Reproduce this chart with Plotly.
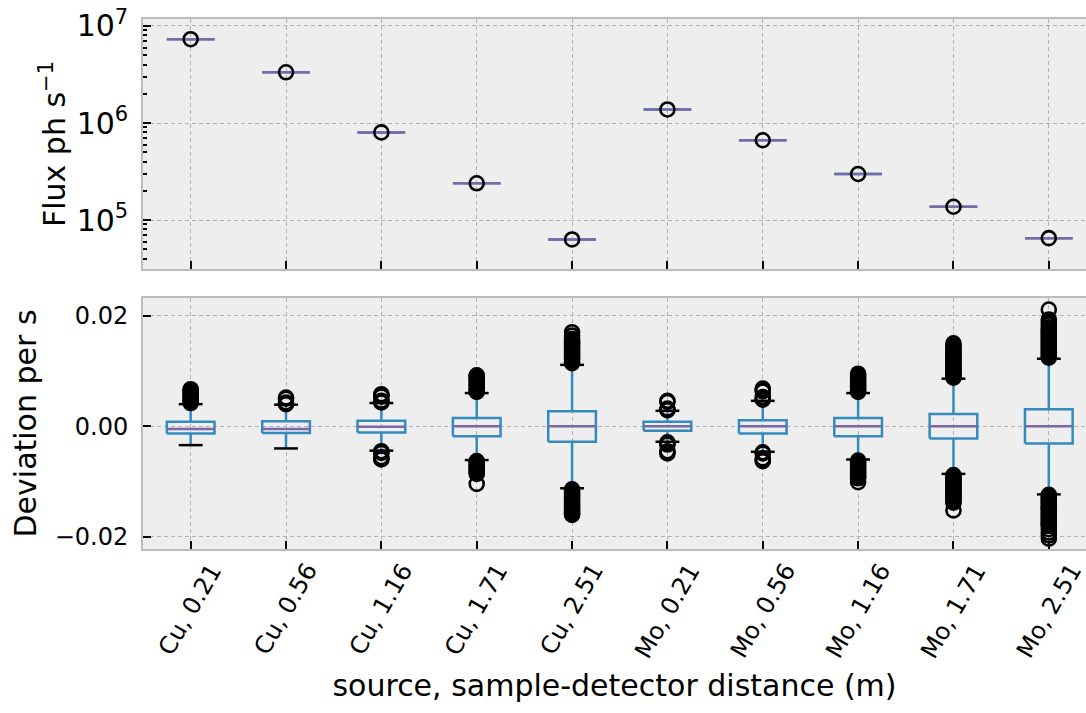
import plotly.graph_objects as go

# Categories: X-ray source and sample-detector distance (m)
categories = ["Cu, 0.21", "Cu, 0.56", "Cu, 1.16", "Cu, 1.71", "Cu, 2.51",
              "Mo, 0.21", "Mo, 0.56", "Mo, 1.16", "Mo, 1.71", "Mo, 2.51"]

# Top panel: photon flux (ph/s) per configuration
flux = [7.3e6, 3.33e6, 8.0e5, 2.39e5, 6.3e4,
        1.38e6, 6.64e5, 2.98e5, 1.37e5, 6.5e4]

# Bottom panel: deviation per second, box statistics
dev_q1 = [-0.0013, -0.0012, -0.0011, -0.0018, -0.0028,
          -0.0008, -0.0013, -0.0018, -0.0022, -0.0031]
dev_median = [-0.0005, -0.0005, -0.0001, 0.0, 0.0,
              0.0, 0.0, 0.0, 0.0, 0.0]
dev_q3 = [0.0008, 0.0009, 0.0010, 0.0015, 0.0027,
          0.0008, 0.0011, 0.0015, 0.0022, 0.0031]
dev_whisker_lo = [-0.0034, -0.0040, -0.0044, -0.0061, -0.0112,
                  -0.0028, -0.0046, -0.0060, -0.0086, -0.0123]
dev_whisker_hi = [0.0040, 0.0039, 0.0042, 0.0060, 0.0111,
                  0.0028, 0.0046, 0.0060, 0.0086, 0.0122]

# Bottom panel: outliers beyond the whiskers
dev_outliers = [
    # Cu, 0.21
    [0.0042, 0.0045, 0.0048, 0.0051, 0.0054, 0.0057, 0.0060, 0.0063, 0.0065, 0.0067],
    # Cu, 0.56
    [0.0040, 0.0041, 0.0043, 0.0050, 0.0052],
    # Cu, 1.16
    [0.0043, 0.0044, 0.0046, 0.0054, 0.0056, 0.0058,
     -0.0045, -0.0046, -0.0048, -0.0056, -0.0058, -0.0060],
    # Cu, 1.71
    [0.0062, 0.0065, 0.0068, 0.0071, 0.0074, 0.0077, 0.0080, 0.0083, 0.0086, 0.0089, 0.0091, 0.0092,
     -0.0063, -0.0066, -0.0069, -0.0072, -0.0075, -0.0078, -0.0081, -0.0084, -0.0086, -0.0104],
    # Cu, 2.51
    [0.0114, 0.0117, 0.0120, 0.0123, 0.0126, 0.0129, 0.0132, 0.0135, 0.0138, 0.0141,
     0.0144, 0.0147, 0.0150, 0.0152, 0.0155, 0.0158, 0.0164, 0.0170,
     -0.0114, -0.0117, -0.0120, -0.0123, -0.0126, -0.0129, -0.0132, -0.0135, -0.0138,
     -0.0141, -0.0144, -0.0147, -0.0150, -0.0153, -0.0156, -0.0158, -0.0160],
    # Mo, 0.21
    [0.0029, 0.0030, 0.0032, 0.0044, 0.0046,
     -0.0029, -0.0031, -0.0033, -0.0045, -0.0047, -0.0049],
    # Mo, 0.56
    [0.0048, 0.0050, 0.0053, 0.0063, 0.0066, 0.0068,
     -0.0047, -0.0049, -0.0058, -0.0061, -0.0063],
    # Mo, 1.16
    [0.0062, 0.0065, 0.0068, 0.0071, 0.0074, 0.0077, 0.0080, 0.0083, 0.0086, 0.0089, 0.0092, 0.0095,
     -0.0062, -0.0065, -0.0068, -0.0071, -0.0074, -0.0077, -0.0080, -0.0083, -0.0086, -0.0089,
     -0.0092, -0.0094, -0.0101],
    # Mo, 1.71
    [0.0088, 0.0091, 0.0094, 0.0097, 0.0100, 0.0103, 0.0106, 0.0109, 0.0112, 0.0115, 0.0118,
     0.0121, 0.0124, 0.0127, 0.0130, 0.0133, 0.0136, 0.0139, 0.0143, 0.0146, 0.0150,
     -0.0088, -0.0091, -0.0094, -0.0097, -0.0100, -0.0103, -0.0106, -0.0109, -0.0112, -0.0115,
     -0.0118, -0.0121, -0.0124, -0.0127, -0.0130, -0.0133, -0.0136, -0.0138, -0.0152],
    # Mo, 2.51
    [0.0124, 0.0127, 0.0130, 0.0133, 0.0136, 0.0139, 0.0142, 0.0145, 0.0148, 0.0151, 0.0154,
     0.0157, 0.0160, 0.0163, 0.0166, 0.0169, 0.0172, 0.0175, 0.0179, 0.0184, 0.0189, 0.0193, 0.0211,
     -0.0124, -0.0127, -0.0130, -0.0133, -0.0136, -0.0139, -0.0142, -0.0145, -0.0148, -0.0151,
     -0.0154, -0.0157, -0.0160, -0.0163, -0.0166, -0.0169, -0.0172, -0.0175, -0.0178, -0.0180,
     -0.0186, -0.0192, -0.0197, -0.0203],
]

BLUE = "#348ABD"
PURPLE = "#7A68A6"
BOX_HALF = 0.25
CAP_HALF = 0.125
LW = 2.5
FONT = "DejaVu Sans"
FLIER = dict(symbol="circle-open", size=14, color="black", line=dict(width=2.6, color="black"))

positions = list(range(1, len(categories) + 1))


def box_outline(q1s, q3s):
    xs, ys = [], []
    for p, a, b in zip(positions, q1s, q3s):
        xs += [p - BOX_HALF, p + BOX_HALF, p + BOX_HALF, p - BOX_HALF, p - BOX_HALF, None]
        ys += [a, a, b, b, a, None]
    return xs, ys


def hlines(values, half):
    xs, ys = [], []
    for p, v in zip(positions, values):
        xs += [p - half, p + half, None]
        ys += [v, v, None]
    return xs, ys


fig = go.Figure()

# ---- top panel: flux (log scale) ----
bx, by = box_outline(flux, flux)
fig.add_trace(go.Scatter(x=bx, y=by, mode="lines", line=dict(color=BLUE, width=LW),
                         xaxis="x2", yaxis="y2", hoverinfo="skip"))
mx, my = hlines(flux, BOX_HALF)
fig.add_trace(go.Scatter(x=mx, y=my, mode="lines", line=dict(color=PURPLE, width=LW),
                         xaxis="x2", yaxis="y2", hoverinfo="skip"))
fig.add_trace(go.Scatter(x=positions, y=flux, mode="markers", marker=FLIER,
                         xaxis="x2", yaxis="y2"))

# ---- bottom panel: deviation boxes ----
wx, wy = [], []
for p, a, b, lo, hi in zip(positions, dev_q1, dev_q3, dev_whisker_lo, dev_whisker_hi):
    wx += [p, p, None, p, p, None]
    wy += [a, lo, None, b, hi, None]
fig.add_trace(go.Scatter(x=wx, y=wy, mode="lines", line=dict(color=BLUE, width=LW),
                         hoverinfo="skip"))
cx, cy = [], []
for v_list in (dev_whisker_lo, dev_whisker_hi):
    hx, hy = hlines(v_list, CAP_HALF)
    cx += hx
    cy += hy
fig.add_trace(go.Scatter(x=cx, y=cy, mode="lines", line=dict(color="black", width=LW),
                         hoverinfo="skip"))
bx, by = box_outline(dev_q1, dev_q3)
fig.add_trace(go.Scatter(x=bx, y=by, mode="lines", line=dict(color=BLUE, width=LW),
                         hoverinfo="skip"))
mx, my = hlines(dev_median, BOX_HALF)
fig.add_trace(go.Scatter(x=mx, y=my, mode="lines", line=dict(color=PURPLE, width=LW),
                         hoverinfo="skip"))
fx, fy = [], []
for p, vals in zip(positions, dev_outliers):
    fx += [p] * len(vals)
    fy += vals
fig.add_trace(go.Scatter(x=fx, y=fy, mode="markers", marker=FLIER))

# rotated category labels, centred under each tick
for p, label in zip(positions, categories):
    fig.add_annotation(x=p, xref="x", y=0, yref="paper", text=label, showarrow=False,
                       textangle=-60, xanchor="center", yanchor="top", yshift=-7,
                       font=dict(family=FONT, size=24, color="black"))

grid = dict(showgrid=True, gridcolor="#b2b2b2", gridwidth=1, griddash="4px,3px")
frame = dict(showline=True, linecolor="#bcbcbc", linewidth=2)
ticks = dict(ticks="inside", ticklen=8, tickwidth=2, tickcolor="black")
tickfont = dict(family=FONT, size=24, color="black")

xrange = [0.5, 10.39]

fig.update_layout(
    width=1086, height=713,
    margin=dict(l=143, r=0, t=19, b=164),
    paper_bgcolor="white", plot_bgcolor="#eeeeee",
    showlegend=False,
    font=dict(family=FONT, color="black"),
    xaxis=dict(domain=[0, 1], anchor="y", range=xrange, tickmode="array",
               tickvals=positions, showticklabels=False, mirror=True, zeroline=False,
               title=dict(text="source, sample-detector distance (m)",
                          font=dict(family=FONT, size=30, color="black"), standoff=125),
               **grid, **frame, **ticks),
    yaxis=dict(domain=[0, 0.4736], anchor="x", range=[-0.02217, 0.02318],
               tickmode="array", tickvals=[-0.02, 0.0, 0.02], tickformat=".2f",
               tickfont=tickfont, zeroline=False, ticklabelstandoff=8,
               title=dict(text="Deviation per s",
                          font=dict(family=FONT, size=30, color="black"), standoff=9),
               **grid, **frame, **ticks),
    xaxis2=dict(domain=[0, 1], anchor="y2", range=xrange, matches="x", tickmode="array",
                tickvals=positions, showticklabels=False, mirror=True, zeroline=False,
                **grid, **frame, **ticks),
    yaxis2=dict(domain=[0.5283, 1], anchor="x2", type="log", range=[4.495, 7.072],
                dtick=1, exponentformat="power", tickfont=tickfont, ticklabelstandoff=8,
                minor=dict(ticks="inside", ticklen=4, tickwidth=1.5, tickcolor="black",
                           dtick="D1", showgrid=False),
                title=dict(text="Flux ph s<sup>−1</sup>",
                           font=dict(family=FONT, size=30, color="black"), standoff=2),
                **grid, **frame, **ticks),
)

fig.write_html("out.html")
